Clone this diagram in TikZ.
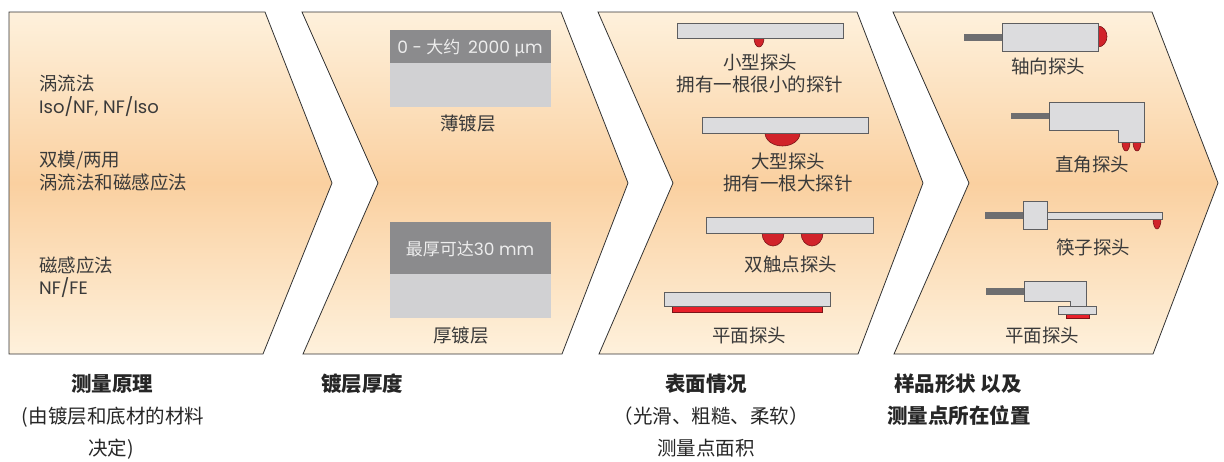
\documentclass[tikz,border=0pt]{standalone}
\usepackage{fontspec}
\setmainfont{Noto Sans CJK SC}
\newfontfamily\lat{Poppins}
\newfontfamily\cjkf{Noto Sans CJK SC}
\definecolor{cream}{HTML}{FEF1DC}
\definecolor{peach}{HTML}{FAD0A0}
\definecolor{outl}{HTML}{333333}
\definecolor{txtc}{HTML}{3A3A3A}
\definecolor{darkbox}{HTML}{8B8B8D}
\definecolor{lightbox}{HTML}{D1D1D3}
\definecolor{bodyc}{HTML}{DCDCDE}
\definecolor{bodyline}{HTML}{5E5E60}
\definecolor{cablec}{HTML}{6E6E70}
\definecolor{tipred}{HTML}{D1232A}
\definecolor{tipline}{HTML}{7A1418}
\definecolor{flatred}{HTML}{E8202A}
\begin{document}
\begin{tikzpicture}[x=1pt,y=-1pt,
  panel/.style={draw=outl,line width=0.8pt,top color=cream,bottom color=cream,middle color=peach},
  txt/.style={inner sep=0pt,text=txtc,anchor=base,font=\fontsize{18.5}{22}\selectfont},
  ltxt/.style={inner sep=0pt,text=txtc,anchor=base west,font=\fontsize{18.5}{22}\selectfont},
  lattxt/.style={inner sep=0pt,text=txtc,anchor=base west,font=\lat\fontsize{18}{22}\selectfont},
  head/.style={inner sep=0pt,text=black!85,anchor=base,font=\bfseries\fontsize{20.5}{24}\selectfont},
  sub/.style={inner sep=0pt,text=black!85,anchor=base,font=\fontsize{19.5}{24}\selectfont},
  boxtxt/.style={inner sep=0pt,text=white!93!black,anchor=base,font=\fontsize{17}{20}\selectfont},
  body/.style={fill=bodyc,draw=bodyline,line width=0.8pt},
  cable/.style={fill=cablec,draw=none},
  tip/.style={fill=tipred,draw=tipline,line width=0.6pt},
  redstrip/.style={fill=flatred,draw=tipline,line width=0.5pt}]
\useasboundingbox (0,0) rectangle (1224,461);

% panels
\path[panel] (9,12) -- (265,12) -- (332,183) -- (263,354) -- (9,354) -- cycle;
\path[panel] (302,12) -- (561,12) -- (628,183) -- (562,354) -- (303,354) -- (378,183) -- cycle;
\path[panel] (598,12) -- (857,12) -- (923,183) -- (858,354) -- (599,354) -- (673,183) -- cycle;
\path[panel] (893,12) -- (1152,12) -- (1218,183) -- (1153,354) -- (894,354) -- (969,183) -- cycle;

% panel 1 texts
\node[ltxt] (a1) at (39,90.5) {涡流法};
\node[lattxt] (a2) at (39,113) {Iso/NF, NF/Iso};
\node[ltxt] (a3) at (39,166.5) {双模/两用};
\node[ltxt] (a4) at (39,189) {涡流法和磁感应法};
\node[ltxt] (a5) at (39,272.5) {磁感应法};
\node[lattxt] (a6) at (39,294.5) {NF/FE};

% panel 2
\fill[darkbox] (390,30) rectangle (551,63);
\fill[lightbox] (390,63) rectangle (551,107);
\fill[darkbox] (390,222) rectangle (551,274);
\fill[lightbox] (390,274) rectangle (551,318);
\node[boxtxt] (b1) at (470,53) {{\lat 0 - }大约\hspace{0.45em}{\lat 2000 }μ{\lat m}};
\node[txt] (b2) at (468,130.5) {薄镀层};
\node[boxtxt] (b3) at (470,255) {最厚可达{\lat 30 mm}};
\node[txt] (b4) at (461,342) {厚镀层};

% panel 3 probes
\draw[tip] (754,38) arc[start angle=180,end angle=360,x radius=5pt,y radius=9pt];
\draw[body] (677,23) rectangle (843,38);
\draw[tip] (765,133) arc[start angle=180,end angle=360,x radius=17.5pt,y radius=13pt];
\draw[body] (702,117) rectangle (868,133);
\draw[tip] (762,233) arc[start angle=180,end angle=360,x radius=11pt,y radius=13pt];
\draw[tip] (801,233) arc[start angle=180,end angle=360,x radius=11pt,y radius=13pt];
\draw[body] (706,217) rectangle (873,233);
\draw[redstrip] (672,306) rectangle (822,312);
\draw[body] (664,292) rectangle (830,306);
\node[txt] (c1) at (760,69.5) {小型探头};
\node[txt] (c2) at (760,91.5) {拥有一根很小的探针};
\node[txt] (c3) at (788,168) {大型探头};
\node[txt] (c4) at (788,190) {拥有一根大探针};
\node[txt] (c5) at (791,271.5) {双触点探头};
\node[txt] (c6) at (749,342) {平面探头};

% panel 4 probes
\fill[cable] (964,34) rectangle (1002,41);
\draw[tip] (1098,26) arc[start angle=90,end angle=-90,x radius=9pt,y radius=10.5pt];
\draw[body] (1002,23) rectangle (1098,51);

\fill[cable] (1011,113) rectangle (1049,119);
\draw[tip] (1122,142) arc[start angle=180,end angle=360,x radius=4pt,y radius=9pt];
\draw[tip] (1133,142) arc[start angle=180,end angle=360,x radius=4pt,y radius=9pt];
\draw[body] (1049,102) -- (1144,102) -- (1144,142) -- (1118,142) -- (1118,130) -- (1049,130) -- cycle;

\fill[cable] (985,212) rectangle (1023,219);
\draw[tip] (1153,219) arc[start angle=180,end angle=360,x radius=4pt,y radius=10pt];
\draw[body] (1047,212) rectangle (1162,219);
\draw[body] (1023,201) rectangle (1047,229);

\fill[cable] (986,288) rectangle (1024,295);
\draw[body] (1024,281) -- (1086,281) -- (1086,306) -- (1070,306) -- (1070,301) -- (1024,301) -- cycle;
\draw[redstrip] (1066,314) rectangle (1089,318);
\draw[body] (1058,306) rectangle (1096,314);

\node[txt] (d1) at (1048,73.5) {轴向探头};
\node[txt] (d2) at (1092,171.5) {直角探头};
\node[txt] (d3) at (1093,254.5) {筷子探头};
\node[txt] (d4) at (1042,342) {平面探头};

% bottom captions
\node[head] (h1) at (112,391) {测量原理};
\node[sub] (h1a) at (113,423.5) {(由镀层和底材的材料};
\node[sub] (h1b) at (111,455) {决定)};
\node[head] (h2) at (362,391) {镀层厚度};
\node[head] (h3) at (706,391) {表面情况};
\node[sub] (h3a) at (711,423.5) {（光滑、粗糙、柔软）};
\node[sub] (h3b) at (706,455) {测量点面积};
\node[head] (h4) at (958,391) {样品形状 以及};
\node[head] (h4a) at (959,423.5) {测量点所在位置};
\end{tikzpicture}
\end{document}
